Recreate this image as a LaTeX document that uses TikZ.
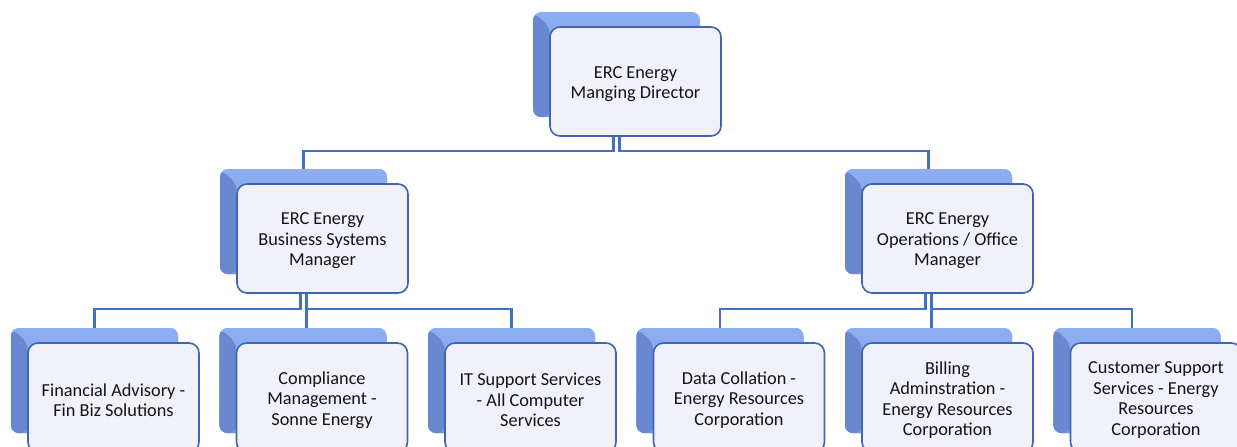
\documentclass[tikz,border=0pt]{standalone}
\usepackage{fontspec}
\setmainfont{Carlito}
\usetikzlibrary{calc}
\definecolor{lineblue}{HTML}{4270C2}
\definecolor{boxborder}{HTML}{3E66B5}
\definecolor{boxfill}{HTML}{F0F1F9}
\definecolor{shtop}{HTML}{8EAEF2}
\definecolor{shbot}{HTML}{7798E2}
\definecolor{shleft}{HTML}{6A88D0}
\definecolor{txt}{HTML}{141414}
\begin{document}
\begin{tikzpicture}[x=1pt,y=-1pt,
  front/.style={draw=boxborder, line width=1.6pt, fill=boxfill, rounded corners=10pt,
    minimum width=171pt, minimum height=109pt, inner sep=0pt},
  boxtext/.style={align=center, inner sep=0pt, text=txt, font=\fontsize{18.3}{20.5}\selectfont},
  back/.style={rounded corners=8pt, minimum width=167pt, minimum height=105pt,
    inner sep=0pt, top color=shtop, bottom color=shbot,
    path picture={\fill[shleft] (path picture bounding box.north west) -- ++(17pt,-15pt)
      -- ([xshift=17pt]path picture bounding box.south west)
      -- (path picture bounding box.south west) -- cycle;}},
  conn/.style={draw=lineblue, line width=2.1pt}]
\useasboundingbox (0,0) rectangle (1237,447);
\clip (0,0) rectangle (1237,447);
\fill[white] (0,0) rectangle (1237,447);
\coordinate (j1) at (0,151);
\coordinate (j2) at (0,309);
% shadow boxes (behind)
\node[back] (s0)  at (616.5,64.5) {};
\node[back] (s1)  at (303.5,221.5) {};
\node[back] (s2)  at (928.5,221.5) {};
\node[back] (s11) at (94.5,380.5) {};
\node[back] (s12) at (303,380.5) {};
\node[back] (s13) at (511.5,380.5) {};
\node[back] (s21) at (720,380.5) {};
\node[back] (s22) at (928.5,380.5) {};
\node[back] (s23) at (1137,380.5) {};
% connectors
\draw[conn] ([xshift=-3pt]s0.south) -- ([xshift=-3pt]s0.south |- j1) -| (s1.north);
\draw[conn] ([xshift=3pt]s0.south) -- ([xshift=3pt]s0.south |- j1) -| (s2.north);
\draw[conn] ([xshift=-3pt]s1.south) -- ([xshift=-3pt]s1.south |- j2) -| (s11.north);
\draw[conn] ([xshift=3pt]s1.south) -- ([xshift=3pt]s1.south |- s12.north);
\draw[conn] ([xshift=3pt]s1.south |- j2) -| (s13.north);
\draw[conn] ([xshift=-3pt]s2.south) -- ([xshift=-3pt]s2.south |- j2) -| (s21.north);
\draw[conn] ([xshift=3pt]s2.south) -- ([xshift=3pt]s2.south |- s22.north);
\draw[conn] ([xshift=3pt]s2.south |- j2) -| ([xshift=-5pt]s23.north);
% redraw shadows over connector ends
\foreach \s in {s1,s2,s11,s12,s13,s21,s22,s23}{
  \node[back] at (\s) {};
}
% front boxes
\node[front] (b0)  at (635.5,81.5)  {};
\node[front] (b1)  at (322.5,238.5) {};
\node[front] (b2)  at (947.5,238.5) {};
\node[front] (b11) at (113.5,397.5) {};
\node[front] (b12) at (322,397.5)   {};
\node[front] (b13) at (530.5,397.5) {};
\node[front] (b21) at (739,397.5)   {};
\node[front] (b22) at (947.5,397.5) {};
\node[front] (b23) at (1156,397.5)  {};
% texts
\node[boxtext] (t0)  at ([yshift=-2.5pt]b0.center)  {ERC Energy\\Manging Director};
\node[boxtext] (t1)  at ([yshift=-2.5pt]b1.center)  {ERC Energy\\Business Systems\\Manager};
\node[boxtext] (t2)  at ([yshift=-2.5pt]b2.center)  {ERC Energy\\Operations / Office\\Manager};
\node[boxtext] (t11) at ([yshift=-2.5pt]b11.center) {Financial Advisory -\\Fin Biz Solutions};
\node[boxtext] (t12) at ([yshift=-2.5pt]b12.center) {Compliance\\Management -\\Sonne Energy};
\node[boxtext] (t13) at ([yshift=-2.5pt]b13.center) {IT Support Services\\- All Computer\\Services};
\node[boxtext] (t21) at ([yshift=-2.5pt]b21.center) {Data Collation -\\Energy Resources\\Corporation};
\node[boxtext] (t22) at ([yshift=-2.5pt]b22.center) {Billing\\Adminstration -\\Energy Resources\\Corporation};
\node[boxtext] (t23) at ([yshift=-2.5pt]b23.center) {Customer Support\\Services - Energy\\Resources\\Corporation};
\end{tikzpicture}
\end{document}
